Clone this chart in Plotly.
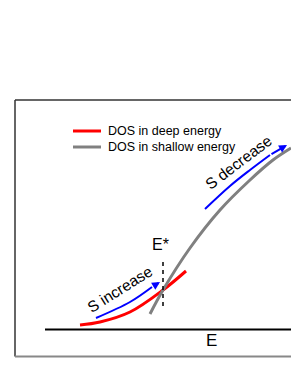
import plotly.graph_objects as go

H = 376
# curve samples (x, y in picture units, y measured upward)
deep_x = [80, 100, 130, 163, 186]
deep_y = [H - 325, H - 322, H - 312, H - 290, H - 271]
shallow_x = [150, 163, 190, 220, 250, 273, 291]
shallow_y = [H - 314, H - 290, H - 248, H - 210, H - 180, H - 160, H - 148]
inc_x = [96, 130, 152]
inc_y = [H - 318, H - 302, H - 287]
inc_tip = (160, H - 282)
dec_x = [205, 230, 250, 270]
dec_y = [H - 209, H - 186, H - 170, H - 155]
dec_tip = (287, H - 145)
estar_x = 163
estar_y = [H - 262, H - 307]
legend_names = ["DOS in deep energy", "DOS in shallow energy"]

FONT = "Liberation Sans, Arial, sans-serif"
fig = go.Figure()
fig.add_trace(go.Scatter(x=deep_x, y=deep_y, mode="lines", line=dict(color="#ff0000", width=3, shape="spline"), showlegend=False))
fig.add_trace(go.Scatter(x=shallow_x, y=shallow_y, mode="lines", line=dict(color="#808080", width=3, shape="spline"), showlegend=False))
fig.add_trace(go.Scatter(x=inc_x, y=inc_y, mode="lines", line=dict(color="#0000ff", width=2, shape="spline"), showlegend=False))
fig.add_trace(go.Scatter(x=dec_x, y=dec_y, mode="lines", line=dict(color="#0000ff", width=2, shape="spline"), showlegend=False))
fig.add_trace(go.Scatter(x=[estar_x, estar_x], y=estar_y, mode="lines", line=dict(color="black", width=1.5, dash="4px,4px"), showlegend=False))

shapes = [
    dict(type="line", xref="x", yref="y", x0=15, x1=300, y0=H - 100, y1=H - 100, line=dict(color="#333333", width=1.5)),
    dict(type="line", xref="x", yref="y", x0=15, x1=15, y0=H - 100, y1=H - 356.5, line=dict(color="#333333", width=1.5)),
    dict(type="line", xref="x", yref="y", x0=15, x1=300, y0=H - 356.5, y1=H - 356.5, line=dict(color="#888888", width=2)),
    dict(type="line", xref="x", yref="y", x0=45, x1=300, y0=H - 329.5, y1=H - 329.5, line=dict(color="black", width=2)),
    dict(type="line", xref="x", yref="y", x0=73, x1=101, y0=H - 131, y1=H - 131, line=dict(color="#ff0000", width=3)),
    dict(type="line", xref="x", yref="y", x0=73, x1=101, y0=H - 147, y1=H - 147, line=dict(color="#808080", width=3)),
]

ann = [
    dict(x=inc_tip[0], y=inc_tip[1], ax=inc_x[-1], ay=inc_y[-1], axref="x", ayref="y", xref="x", yref="y",
         text="", showarrow=True, arrowhead=2, arrowsize=0.8, arrowwidth=2, arrowcolor="#0000ff"),
    dict(x=dec_tip[0], y=dec_tip[1], ax=dec_x[-1], ay=dec_y[-1], axref="x", ayref="y", xref="x", yref="y",
         text="", showarrow=True, arrowhead=2, arrowsize=0.8, arrowwidth=2, arrowcolor="#0000ff"),
    dict(x=106, y=H - 131, xref="x", yref="y", text=legend_names[0], showarrow=False, xanchor="left", yanchor="middle",
         font=dict(family=FONT, size=12.5, color="black")),
    dict(x=106, y=H - 147, xref="x", yref="y", text=legend_names[1], showarrow=False, xanchor="left", yanchor="middle",
         font=dict(family=FONT, size=12.5, color="black")),
    dict(x=119, y=H - 289, xref="x", yref="y", text="S increase", showarrow=False, textangle=-32,
         font=dict(family=FONT, size=15.5, color="black")),
    dict(x=238, y=H - 162, xref="x", yref="y", text="S decrease", showarrow=False, textangle=-37,
         font=dict(family=FONT, size=15.5, color="black")),
    dict(x=160, y=H - 244, xref="x", yref="y", text="E*", showarrow=False,
         font=dict(family=FONT, size=16, color="black")),
    dict(x=211, y=H - 340, xref="x", yref="y", text="E", showarrow=False,
         font=dict(family=FONT, size=17, color="black")),
]

fig.update_layout(
    width=291, height=376, margin=dict(l=0, r=0, t=0, b=0),
    paper_bgcolor="white", plot_bgcolor="white",
    xaxis=dict(range=[0, 291], visible=False, fixedrange=True),
    yaxis=dict(range=[0, 376], visible=False, fixedrange=True),
    shapes=shapes, annotations=ann, showlegend=False,
)
fig.write_html(
    "out.html",
    config={"responsive": False, "displayModeBar": False},
    post_script="document.body.style.margin='0'; document.body.style.overflow='hidden'; "
                "Plotly.Plots.resize(document.getElementById('{plot_id}'));",
)
